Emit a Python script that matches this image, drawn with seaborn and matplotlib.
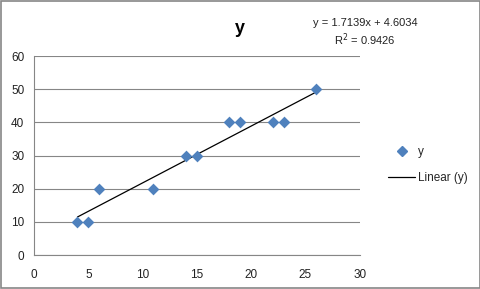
import matplotlib
matplotlib.use("Agg")
import matplotlib.pyplot as plt
import seaborn as sns
import numpy as np
import pandas as pd
from matplotlib.lines import Line2D

x_vals = [4, 5, 6, 11, 14, 15, 18, 19, 22, 23, 26]
y_vals = [10, 10, 20, 20, 30, 30, 40, 40, 40, 40, 50]
x_ticks = [0, 5, 10, 15, 20, 25, 30]
y_ticks = [0, 10, 20, 30, 40, 50, 60]

df = pd.DataFrame({"x": x_vals, "y": y_vals})

sns.set_style("white")
plt.rcParams['font.family'] = ['Liberation Sans', 'DejaVu Sans']

fig = plt.figure(figsize=(4.81, 2.89), dpi=100)
fig.patch.set_facecolor("white")
ax = fig.add_axes([0.0707, 0.1176, 0.6773, 0.6886])

blue = "#4F81BD"
sns.scatterplot(data=df, x="x", y="y", marker="D", s=36, color=blue,
                edgecolor=blue, linewidth=0, ax=ax, zorder=3, legend=False)
sns.regplot(data=df, x="x", y="y", scatter=False, ci=None, truncate=True,
            color="black", line_kws={"lw": 0.9}, ax=ax)

ax.set_xlim(0, 30)
ax.set_ylim(0, 60)
ax.set_xticks(x_ticks)
ax.set_yticks(y_ticks)
ax.set_xlabel("")
ax.set_ylabel("")
ax.yaxis.grid(True, color="#868686", lw=0.8)
ax.xaxis.grid(False)
for side in ["top", "right"]:
    ax.spines[side].set_visible(False)
for side in ["left", "bottom"]:
    ax.spines[side].set_color("#868686")
    ax.spines[side].set_linewidth(0.8)
ax.tick_params(axis="both", direction="out", length=4, width=0.8,
               color="#868686", labelsize=8.5, labelcolor="#222222", pad=3)
ax.tick_params(axis="x", pad=6)
ax.set_axisbelow(True)

fig.text(0.499, 0.9, "y", ha="center", va="center", fontsize=13,
         fontweight="bold", color="black")
fig.text(0.759, 0.92, "y = 1.7139x + 4.6034", ha="center", va="center",
         fontsize=8, color="#222222")
fig.text(0.759, 0.862, "R$^2$ = 0.9426", ha="center", va="center",
         fontsize=8, color="#222222")

handles = [Line2D([], [], marker="D", color=blue, ls="", markersize=5),
           Line2D([], [], color="black", lw=0.9)]
fig.legend(handles, ["y", "Linear (y)"], loc="center left",
           bbox_to_anchor=(0.785, 0.43), frameon=False, fontsize=8.5,
           handlelength=2.3, handletextpad=0.2, labelspacing=1.2)

border = plt.Rectangle((0.002, 0.003), 0.996, 0.994, transform=fig.transFigure,
                       fill=False, edgecolor="#868686", lw=1.2)
fig.patches.append(border)

fig.savefig("out.png", dpi=100)
